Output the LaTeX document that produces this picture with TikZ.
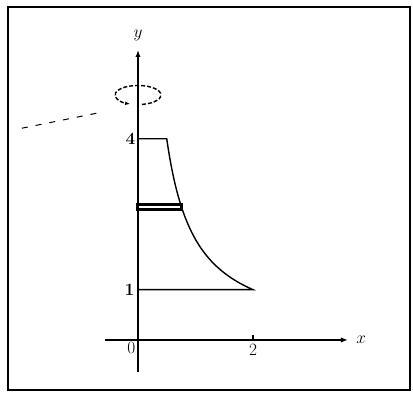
\documentclass[tikz,border=0pt]{standalone}
\usepackage{xcolor}
\usepackage{amsmath}
\usetikzlibrary{arrows.meta}

\begin{document}
\begin{tikzpicture}[x=57.5pt, y=50.3pt, line width=1.4pt, every node/.style={font=\LARGE}]
    \useasboundingbox (-2.4,-1.074) rectangle (4.783,6.759);

    % Frame
    \draw[line width=2.6pt] (-2.261,-0.994) rectangle (4.730,6.620);

    % Axes
    \coordinate (O) at (0,0);
    \coordinate (xstart) at (-0.574,0);
    \coordinate (ystart) at (0,-0.636);
    \node (xlab) at (3.88,0) {$x$};
    \node (ylab) at (0,6.05) {$y$};
    \draw[-{Latex[length=7pt]}] (xstart) -- (3.652,0);
    \draw[-{Latex[length=7pt]}] (ystart) -- (0,5.765);

    % Tick labels
    \node[below left, inner sep=2pt] (zero) at (O) {$0$};
    \node[left, inner sep=2pt] (four) at (0,4) {$\mathbf{4}$};
    \node[left, inner sep=3pt] (one) at (0,1) {$\mathbf{1}$};
    \node[below, inner sep=1pt] (two) at (2,-0.05) {$2$};
    \draw (2,0) -- (2,0.1);

    % Region under x = 2/y
    \draw (0,4) -- (0.5,4) -- plot[domain=4:1, samples=40, smooth] ({2/\x},\x) -- (0,1);

    % Strip
    \draw[line width=3pt] (0,2.6) rectangle ({2/2.64},2.7);

    % Rotation about the y-axis
    \draw[dashed, dash pattern=on 4pt off 2pt, -{Latex[length=5pt]}] (0,4.87) ++(-80:0.40 and 0.19) arc (-80:250:0.40 and 0.19);

    % Leader
    \draw[dashed, line width=1pt, dash pattern=on 6pt off 8pt] (-2.02,4.21) -- (-0.71,4.51);
\end{tikzpicture}
\end{document}
